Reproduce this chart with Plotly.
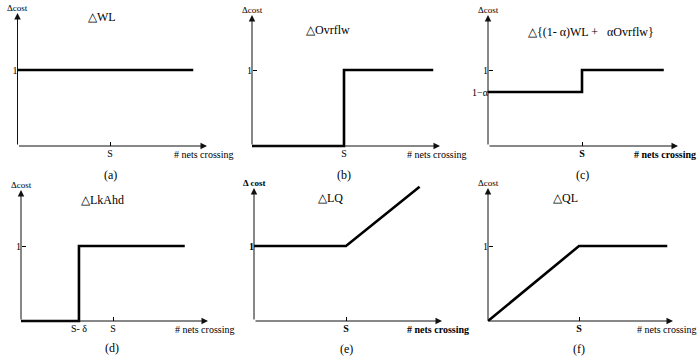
import plotly.graph_objects as go

# ---------------- data (S = 1 on x, "1" = 1 on y) ----------------
a_x = [0, 1.90]; a_y = [1, 1]
b_x = [0, 1, 1, 1.97]; b_y = [0, 0, 1, 1]
c_x = [0, 1, 1, 1.87]; c_y = [0.71, 0.71, 1, 1]
d_x = [0, 0.63, 0.63, 1.78]; d_y = [0, 0, 1, 1]
e_x = [0, 1, 1.80]; e_y = [1, 1, 1.79]
f_x = [0, 1, 1.97]; f_y = [0, 1, 1]

titles = ["△WL", "△Ovrflw", "△{(1- α)WL +   αOvrflw}", "△LkAhd", "△LQ", "△QL"]
captions = ["(a)", "(b)", "(c)", "(d)", "(e)", "(f)"]
x_tickvals = [[1], [1], [1], [0.63, 1], [1], [1]]
x_ticktext = [["S"], ["S"], ["<b>S</b>"], ["S- δ", "S"], ["<b>S</b>"], ["<b>S</b>"]]
y_tickvals = [[1], [1], [0.71, 1], [1], [1], [1]]
y_ticktext = [["1"], ["1"], ["1−α", "1"], ["1"], ["<b>1</b>"], ["1"]]
ylab = ["Δcost", "Δcost", "Δcost", "Δcost", "<b>Δ cost</b>", "Δcost"]
xlab = ["# nets crossing", "# nets crossing", "<b># nets crossing</b>",
        "# nets crossing", "<b># nets crossing</b>", "# nets crossing"]

series = [(a_x, a_y), (b_x, b_y), (c_x, c_y), (d_x, d_y), (e_x, e_y), (f_x, f_y)]

# ---------------- layout geometry (pixels) ----------------
W, H = 700, 360
# origin x, origin y, px per S, px per 1, x-axis end, y-axis top
geom = [
    (17.5, 146, 92.5, 76, 207, 13),
    (252, 146, 92, 76, 440, 15),
    (488, 146, 94, 76, 678, 15),
    (21, 321, 92, 75, 208, 190),
    (254, 321, 92, 75, 442, 188),
    (488, 321, 91, 75, 673, 188),
]
xlab_x = [203, 436, 665, 204, 438, 666]
title_pos = [(102, 17), (328, 30), (591, 32), (103, 200), (330, 198), (565, 198)]
cap_pos = [(110, 175), (344, 175), (582, 175), (112, 348), (346, 349), (579, 349)]

FONT = "Liberation Serif, Times New Roman, serif"
pad = 6

fig = go.Figure()
layout = dict(width=W, height=H, margin=dict(l=0, r=0, t=0, b=0),
              paper_bgcolor="white", plot_bgcolor="rgba(0,0,0,0)",
              showlegend=False, font=dict(family=FONT, size=10, color="black"))
annotations = []

def px(x):
    return x / W

def py(y):
    return 1 - y / H

for i, (xs_, ys_) in enumerate(series):
    ox, oy, sx, sy, xend, ytop = geom[i]
    n = "" if i == 0 else str(i + 1)
    xr, yr = "x" + n, "y" + n
    fig.add_trace(go.Scatter(x=xs_, y=ys_, mode="lines", xaxis=xr, yaxis=yr,
                             line=dict(color="black", width=2.6),
                             hoverinfo="skip"))
    xmax = (xend - ox) / sx
    ymax = (oy - ytop) / sy
    layout["xaxis" + n] = dict(
        domain=[px(ox - pad), px(xend + pad)],
        range=[-pad / sx, xmax + pad / sx],
        anchor="free", position=py(oy),
        showgrid=False, zeroline=False, showline=False,
        tickmode="array", tickvals=x_tickvals[i], ticktext=x_ticktext[i],
        ticks="inside", ticklen=4, tickwidth=1, tickcolor="black",
        tickfont=dict(family=FONT, size=10, color="black"), fixedrange=True)
    layout["yaxis" + n] = dict(
        domain=[py(oy + pad), py(ytop - pad)],
        range=[-pad / sy, ymax + pad / sy],
        anchor="free", position=px(ox),
        showgrid=False, zeroline=False, showline=False,
        tickmode="array", tickvals=y_tickvals[i], ticktext=y_ticktext[i],
        ticks="inside", ticklen=4, tickwidth=1, tickcolor="black",
        tickfont=dict(family=FONT, size=10, color="black"), fixedrange=True)
    # axes with arrowheads
    annotations.append(dict(xref=xr, yref=yr, axref=xr, ayref=yr,
                            x=xmax, y=0, ax=0, ay=0, text="", showarrow=True,
                            arrowhead=2, arrowsize=1.3, arrowwidth=1,
                            arrowcolor="#111", standoff=0, startstandoff=0))
    annotations.append(dict(xref=xr, yref=yr, axref=xr, ayref=yr,
                            x=0, y=ymax, ax=0, ay=0, text="", showarrow=True,
                            arrowhead=2, arrowsize=1.3, arrowwidth=1,
                            arrowcolor="#111", standoff=0, startstandoff=0))
    # axis labels
    annotations.append(dict(xref="paper", yref="paper", x=px(ox), y=py(ytop - 5),
                            text=ylab[i], showarrow=False, xanchor="center",
                            yanchor="middle", font=dict(family=FONT, size=9)))
    annotations.append(dict(xref="paper", yref="paper", x=px(xlab_x[i]), y=py(oy + 8),
                            text=xlab[i], showarrow=False, xanchor="center",
                            yanchor="middle", font=dict(family=FONT, size=10)))
    tx, ty = title_pos[i]
    annotations.append(dict(xref="paper", yref="paper", x=px(tx), y=py(ty),
                            text=titles[i], showarrow=False, xanchor="center",
                            yanchor="middle", font=dict(family=FONT, size=12)))
    cx, cy = cap_pos[i]
    annotations.append(dict(xref="paper", yref="paper", x=px(cx), y=py(cy),
                            text=captions[i], showarrow=False, xanchor="center",
                            yanchor="middle", font=dict(family=FONT, size=12)))

layout["annotations"] = annotations
fig.update_layout(**layout)
fig.write_html("out.html")
